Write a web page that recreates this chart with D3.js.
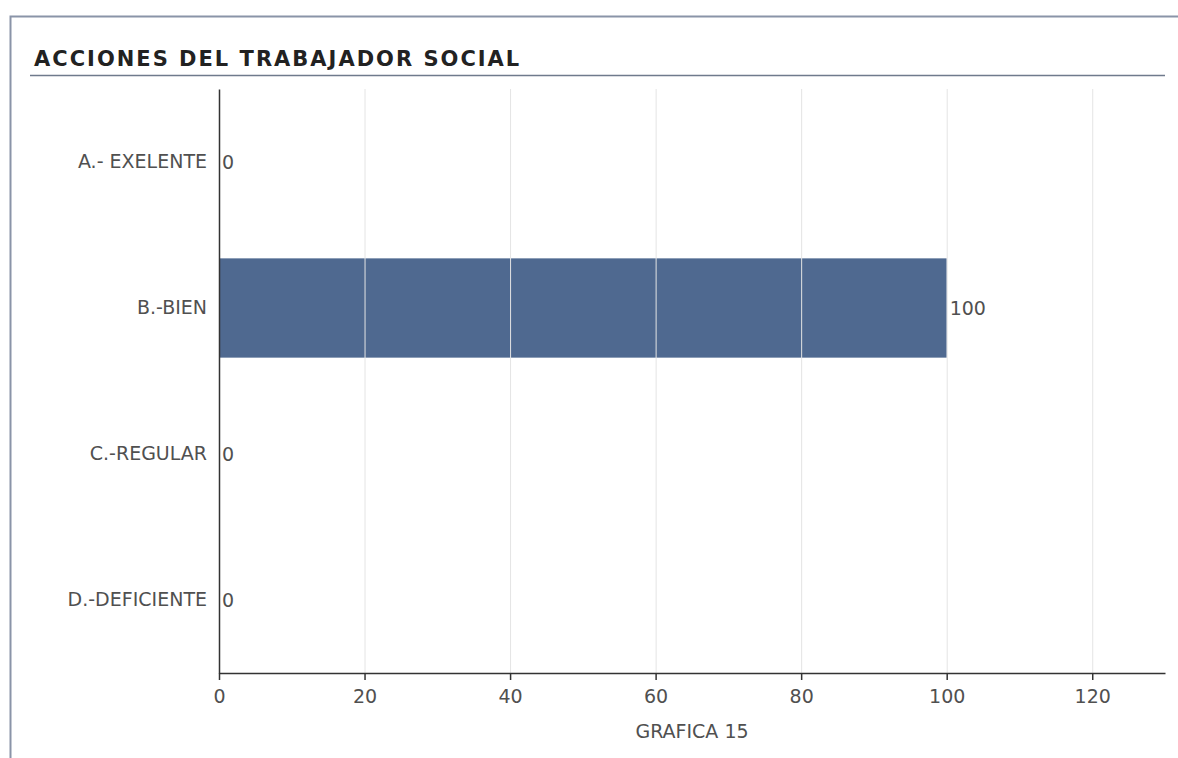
<!DOCTYPE html>
<html>
<head>
<meta charset="utf-8">
<script src="https://cdn.jsdelivr.net/npm/d3@7"></script>
<style>
  html, body { margin: 0; padding: 0; background: #fff; }
  svg { display: block; }
  text { font-family: "DejaVu Sans", Verdana, sans-serif; }
</style>
</head>
<body>
<svg id="chart" width="1178" height="758"></svg>
<script>
// Categories and values for the horizontal bar chart
const categories = ["A.- EXELENTE", "B.-BIEN", "C.-REGULAR", "D.-DEFICIENTE"];
const values = [0, 100, 0, 0];
const xTicks = [0, 20, 40, 60, 80, 100, 120];
const chartTitle = "ACCIONES DEL TRABAJADOR SOCIAL";
const xLabel = "GRAFICA 15";

const svg = d3.select("#chart");
const W = 1178, H = 758;
const margin = { left: 219, right: 13, top: 89, bottom: 85 };
const labelFont = 19;
const labelColor = "#505050";

// Panel frame (top and left edges; the panel continues past the window)
svg.append("path")
  .attr("d", `M10.5,${H} V16.5 H${W}`)
  .attr("fill", "none")
  .attr("stroke", "#8a94a8").attr("stroke-width", 2);

// Title and underline
svg.append("text")
  .attr("x", 34).attr("y", 66)
  .attr("font-size", 21).attr("font-weight", "bold")
  .attr("letter-spacing", 2)
  .attr("fill", "#222")
  .text(chartTitle);
svg.append("line")
  .attr("x1", 30).attr("x2", 1165)
  .attr("y1", 75.5).attr("y2", 75.5)
  .attr("stroke", "#6f7a8c").attr("stroke-width", 1.5);

const x = d3.scaleLinear().domain([0, 130]).range([margin.left, W - margin.right]);
const y = d3.scaleBand().domain(categories)
  .range([margin.top, H - margin.bottom]).paddingInner(0.32).paddingOuter(0.16);

const rows = categories.map((c, i) => ({ c, v: values[i] }));

// Bars
svg.append("g").selectAll("rect")
  .data(rows)
  .join("rect")
  .attr("x", x(0))
  .attr("y", d => y(d.c))
  .attr("width", d => x(d.v) - x(0))
  .attr("height", y.bandwidth())
  .attr("fill", "#4f6990");

// Vertical gridlines (drawn over the bars)
svg.append("g").selectAll("line")
  .data(xTicks.filter(t => t > 0))
  .join("line")
  .attr("x1", d => x(d) + 0.5).attr("x2", d => x(d) + 0.5)
  .attr("y1", margin.top).attr("y2", H - margin.bottom)
  .attr("stroke", "#e4e4e4").attr("stroke-width", 1);

// X axis
const xAxis = svg.append("g")
  .attr("transform", `translate(0,${H - margin.bottom})`)
  .call(d3.axisBottom(x).tickValues(xTicks).tickSize(7).tickSizeOuter(0).tickPadding(10));
xAxis.select(".domain").attr("stroke", "#333").attr("stroke-width", 1.5);
xAxis.selectAll(".tick line").attr("stroke", "#333").attr("stroke-width", 1.5);
xAxis.selectAll(".tick text")
  .attr("font-size", labelFont).attr("fill", labelColor)
  .attr("font-family", "\"DejaVu Sans\", Verdana, sans-serif");

// Y axis
const yAxis = svg.append("g")
  .attr("transform", `translate(${margin.left},0)`)
  .call(d3.axisLeft(y).tickSize(0).tickPadding(12));
yAxis.select(".domain").attr("stroke", "#333").attr("stroke-width", 1.5);
yAxis.selectAll(".tick text")
  .attr("font-size", labelFont).attr("fill", labelColor)
  .attr("font-family", "\"DejaVu Sans\", Verdana, sans-serif");

// Value labels
svg.append("g").selectAll("text")
  .data(rows)
  .join("text")
  .attr("x", d => x(d.v) + 3)
  .attr("y", d => y(d.c) + y.bandwidth() / 2)
  .attr("dy", "0.35em")
  .attr("font-size", labelFont).attr("fill", labelColor)
  .text(d => d.v);

// Axis caption
svg.append("text")
  .attr("x", (x(0) + x(130)) / 2).attr("y", 738)
  .attr("text-anchor", "middle")
  .attr("font-size", labelFont).attr("fill", labelColor)
  .text(xLabel);
</script>
</body>
</html>
